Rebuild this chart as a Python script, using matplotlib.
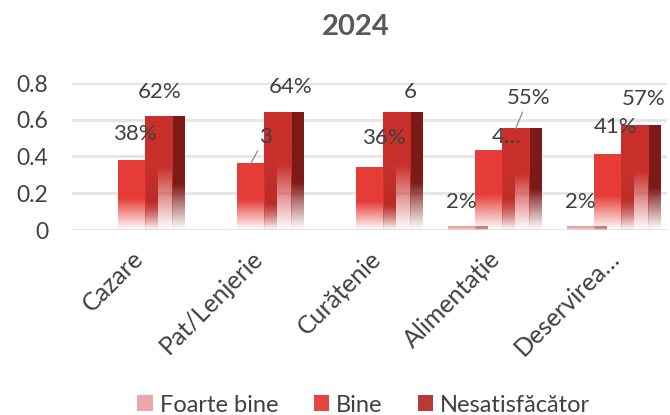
import matplotlib.pyplot as plt
import matplotlib.colors as mcolors
from matplotlib.patches import Patch
import numpy as np

plt.rcParams['font.family'] = ['Lato', 'DejaVu Sans']

categories = ['Cazare', 'Pat/Lenjerie', 'Curățenie', 'Alimentație', 'Deservirea…']
series = ['Foarte bine', 'Bine', 'Nesatisfăcător']
foarte_bine = [0.0, 0.0, 0.0, 0.02, 0.02]
bine = [0.38, 0.36, 0.34, 0.43, 0.41]
nesatisfacator = [0.62, 0.64, 0.64, 0.55, 0.57]
values = [foarte_bine, bine, nesatisfacator]

# data labels as shown in the chart (some are cut off there)
labels_fb = ['', '', '', '2%', '2%']
labels_b = ['38%', '3', '36%', '4…', '41%']
labels_n = ['62%', '64%', '6', '55%', '57%']
labels = [labels_fb, labels_b, labels_n]

# styling
front_colors = ['#e9a3a3', '#e63c37', '#c9302c']
side_colors = ['#c98080', '#b02a26', '#7d1a18']
legend_colors = ['#eca8a8', '#e2463f', '#b93a34']
front_fade = [0.5, 0.45, 0.55]
txt = '#404040'
# label offsets in pixels (dx, dy) from top of the bar front
offsets = [
    [(0, 24)] * 5,
    [(3, 26), (15, 27), (14, 30), (18, 14), (8, 28)],
    [(1, 24), (13, 25), (14, 20), (13, 31), (9, 26)],
]
leaders = {(1, 1), (2, 3)}

fig = plt.figure(figsize=(6.7, 4.15), dpi=100)
ax = fig.add_axes([72 / 670, 185 / 415, 595 / 670, 147 / 415])

x = np.arange(len(categories))
w = 0.227
side = 0.105


def gradient_fill(rect, color, fade=0.6):
    x0, y0 = rect.get_x(), rect.get_y()
    x1, y1 = x0 + rect.get_width(), y0 + rect.get_height()
    if y1 - y0 <= 0:
        return
    n = 100
    t = np.linspace(1, 0, n)  # top -> bottom
    alpha = np.clip(t / fade, 0.03, 1.0)
    img = np.zeros((n, 1, 4))
    img[:, 0, :3] = mcolors.to_rgb(color)
    img[:, 0, 3] = alpha
    ax.imshow(img, extent=(x0, x1, y0, y1), aspect='auto', zorder=3,
              interpolation='bilinear')


for k in range(3):
    pos = x + (k - 1) * w
    sides = ax.bar(pos + w / 2 + side / 2, values[k], width=side,
                   color='none', zorder=3)
    fronts = ax.bar(pos, values[k], width=w, color='none', zorder=3)
    for r in sides:
        gradient_fill(r, side_colors[k], fade=0.4)
    for r in fronts:
        gradient_fill(r, front_colors[k], fade=front_fade[k])
    for i, r in enumerate(fronts):
        if not labels[k][i]:
            continue
        dx, dy = offsets[k][i]
        cx = r.get_x() + r.get_width() / 2
        top = r.get_height()
        arrow = None
        if (k, i) in leaders:
            arrow = dict(arrowstyle='-', color='#8c8c8c', lw=0.9,
                         shrinkA=1, shrinkB=0)
        ax.annotate(labels[k][i], xy=(cx, top), xytext=(dx, dy),
                    textcoords='offset pixels', ha='center', va='center',
                    fontsize=16, color=txt, zorder=5, arrowprops=arrow)

ax.set_xlim(-0.5, 4.5)
ax.set_ylim(0, 0.8)
ax.set_yticks([0, 0.2, 0.4, 0.6, 0.8], ['0', '0.2', '0.4', '0.6', '0.8'])
ax.yaxis.grid(True, color='#e6e6e6', lw=2.2)
ax.set_axisbelow(True)
for s in ax.spines.values():
    s.set_visible(False)
ax.tick_params(axis='y', length=0, pad=17, labelsize=16.5, labelcolor=txt)

ax.set_xticks(x, categories)
ax.tick_params(axis='x', length=0, pad=12, labelsize=18, labelcolor=txt)
for lab in ax.get_xticklabels():
    lab.set_rotation(45)
    lab.set_ha('right')
    lab.set_va('top')
    lab.set_rotation_mode('anchor')

fig.text(0.531, 1 - 27 / 415, '2024', ha='center', va='center',
         fontsize=21, fontweight='bold', color='#595959')

handles = [Patch(facecolor=c, edgecolor='none') for c in legend_colors]
fig.legend(handles, series, loc='center', bbox_to_anchor=(0.543, 1 - 405 / 415),
           ncol=3, frameon=False, fontsize=17, labelcolor=txt,
           handlelength=0.65, handleheight=0.65, handletextpad=0.3,
           columnspacing=1.5, borderpad=0)

fig.savefig('out.png', dpi=100)
